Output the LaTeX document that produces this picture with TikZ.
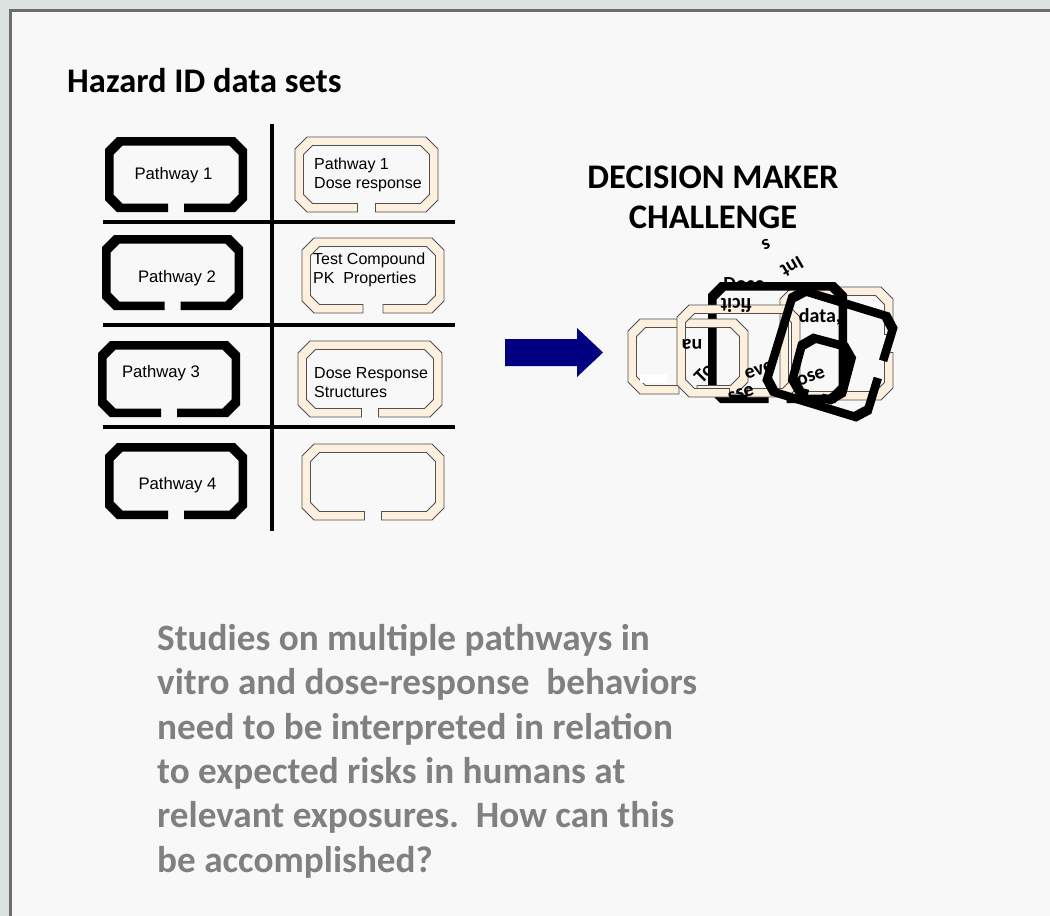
\documentclass[tikz,border=0pt]{standalone}
\usepackage{fontspec}
\setmainfont{Carlito}
\newfontfamily\labelfont{Liberation Sans}
\definecolor{slidebg}{HTML}{DCE2DF}
\definecolor{panel}{HTML}{F8F8F8}
\definecolor{panelrule}{HTML}{6E6E6E}
\definecolor{cream}{HTML}{FDF0DE}
\definecolor{creamedge}{HTML}{505050}
\definecolor{navy}{HTML}{000080}
\definecolor{note}{HTML}{808080}
% band thickness, outer chamfer, inner chamfer offset
\def\bt{8.5}
\def\bc{12}
\def\bi{17.5}
% octagonal frame with a gap in the bottom edge, centred at the origin
\newcommand{\plaquepath}[3]{%
  (#3,#2) -- ({#1-\bc},#2) -- (#1,{#2-\bc}) -- (#1,{\bc-#2}) -- ({#1-\bc},-#2)
  -- ({\bc-#1},-#2) -- (-#1,{\bc-#2}) -- (-#1,{#2-\bc}) -- ({\bc-#1},#2) -- (-#3,#2)
  -- (-#3,{#2-\bt}) -- ({\bi-#1},{#2-\bt}) -- ({\bt-#1},{#2-\bi}) -- ({\bt-#1},{\bi-#2})
  -- ({\bi-#1},{\bt-#2}) -- ({#1-\bi},{\bt-#2}) -- ({#1-\bt},{\bi-#2}) -- ({#1-\bt},{#2-\bi})
  -- ({#1-\bi},{#2-\bt}) -- (#3,{#2-\bt}) -- cycle}

\begin{document}
\begin{tikzpicture}[x=1pt,y=-1pt,
  blackplaque/.style={fill=black},
  creamplaque/.style={fill=cream,draw=creamedge,line width=0.8},
  divider/.style={line width=3.3},
  pathlabel/.style={font=\labelfont\fontsize{16.7}{19}\selectfont,inner sep=0},
  datalabel/.style={font=\labelfont\fontsize{16}{19}\selectfont,inner sep=0,align=left,anchor=west},
  jumble/.style={font=\bfseries\fontsize{20}{20}\selectfont,inner sep=0}]
  \useasboundingbox (0,0) rectangle (1050,916);
  \fill[slidebg] (0,0) rectangle (1050,916);
  \draw[panelrule,line width=2.5,fill=panel] (10.25,10.25) rectangle (1070,940);

  \node[anchor=base west,inner sep=0,font=\bfseries\fontsize{34.5}{40}\selectfont] (title) at (67,92) {Hazard ID data sets};

  % pathway frames
  \foreach \cx/\cy/\hw/\hh in {176/174.5/71/37.5, 172.5/272.5/70.5/37.5, 169/379/71/38, 176/481/71/38}
    \path[blackplaque,shift={(\cx,\cy)}] \plaquepath{\hw}{\hh}{8};
  % data frames
  \foreach \cx/\cy/\hw/\hh/\g in {366.5/174.5/71.5/37.5/9, 373/275.5/71/37.5/10, 370/379/72/38/8.5, 373/482/71/38/8.5}
    \path[creamplaque,shift={(\cx,\cy)}] \plaquepath{\hw}{\hh}{\g};

  % grid
  \draw[divider] (272,124) -- (272,531);
  \foreach \y in {222,325,427}
    \draw[divider] (103,\y) -- (455,\y);

  \node[pathlabel] (pw1) at (173.5,175) {Pathway 1};
  \node[pathlabel] (pw2) at (177,278) {Pathway 2};
  \node[pathlabel] (pw3) at (161,373) {Pathway 3};
  \node[pathlabel] (pw4) at (177.5,485) {Pathway 4};
  \node[datalabel] (dr1) at (314,174.5) {Pathway 1\\Dose response};
  \node[datalabel] (pk) at (313,269.5) {Test Compound\\PK\ \ Properties};
  \node[datalabel] (drs) at (314,382.5) {Dose Response\\Structures};

  % block arrow
  \fill[navy] (505,339) -- (577,339) -- (577,328) -- (603,352.5) -- (577,377) -- (577,366) -- (505,366) -- cycle;

  \node[anchor=north,inner sep=0,align=center,font=\bfseries\fontsize{34.5}{40}\selectfont] (challenge) at (713,166) {DECISION MAKER\\CHALLENGE};

  % pile of frames
  \path[creamplaque,shift={(836.5,343.5)},rotate=90] \plaquepath{56.5}{56.5}{9};
  \path[blackplaque,shift={(777.5,342.5)}] \plaquepath{69.5}{60.5}{9};
  \path[creamplaque,shift={(688,356.5)}] \plaquepath{60}{37.5}{9};
  \fill[white] (640,374) rectangle (667,383);
  \path[creamplaque,shift={(738.5,351)}] \plaquepath{61.5}{46}{9};
  \node[jumble,rotate=200] (j1) at (766,244) {s};
  \node[jumble,rotate=210] (j2) at (792,267) {Int};
  \node[jumble] (j3) at (744,284) {Dose};
  \node[jumble,rotate=180] (j4) at (736,305) {ficit};
  \node[jumble] (j5) at (820,317) {data,};
  \node[jumble,rotate=180] (j6) at (692,344) {na};
  \node[jumble,rotate=45] (j7) at (704,373) {To};
  \node[jumble,rotate=18] (j8) at (759,370) {eve};
  \node[jumble,rotate=15] (j9) at (741,394) {sse};
  \node[jumble,rotate=20] (j10) at (811,377) {ose};
  \path[blackplaque,shift={(830,354)},rotate=73] \plaquepath{57}{57}{9};
  \path[blackplaque,shift={(822,369)},rotate=-15] \plaquepath{30}{32}{7};

  \node[anchor=north west,inner sep=0,align=left,text=note,font=\bfseries\fontsize{37.2}{44.4}\selectfont] (question) at (157,624)
    {Studies on multiple pathways in\\vitro and dose-response\ \ behaviors\\need to be interpreted in relation\\to expected risks in humans at\\relevant exposures.\ \ How can this\\be accomplished?};
\end{tikzpicture}
\end{document}
